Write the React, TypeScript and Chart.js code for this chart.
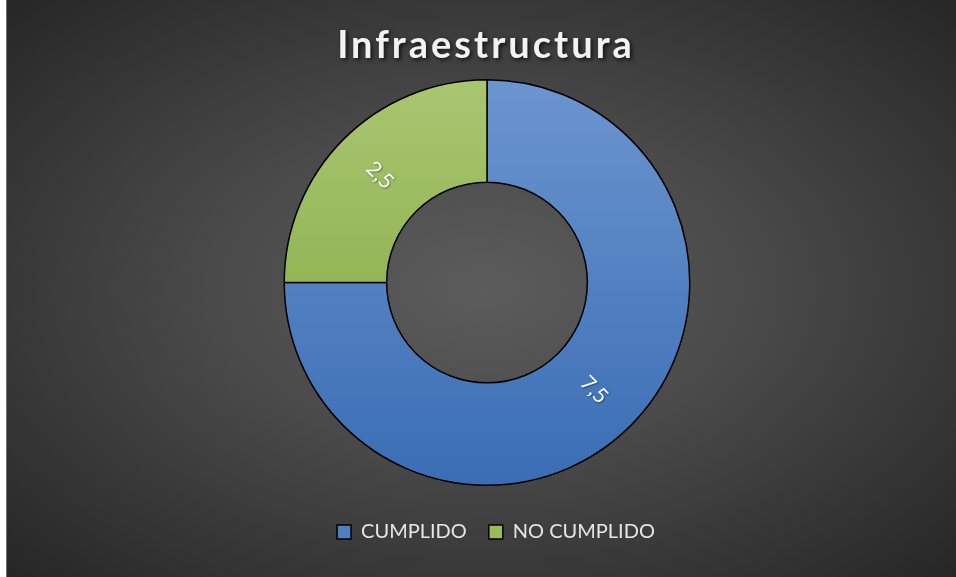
import React, { useEffect, useRef } from 'react';
import { Chart, registerables } from 'chart.js';

Chart.register(...registerables);

const categories = ['CUMPLIDO', 'NO CUMPLIDO'];
const values = [7.5, 2.5];
const titleText = 'Infraestructura';

const FONT = 'Lato, "Open Sans", sans-serif';
const W = 949;
const H = 577;

function sliceFill(chart: any, index: number) {
  const ca = chart.chartArea;
  const blue = index === 0;
  if (!ca) return blue ? '#4f81bd' : '#9bbb59';
  const g = chart.ctx.createLinearGradient(0, ca.top, 0, ca.bottom);
  if (blue) {
    g.addColorStop(0, '#6b95cf');
    g.addColorStop(1, '#3a6db4');
  } else {
    g.addColorStop(0, '#a9c670');
    g.addColorStop(1, '#7ea53c');
  }
  return g;
}

export default function App() {
  const ref = useRef<HTMLCanvasElement>(null);

  useEffect(() => {
    document.body.style.margin = '0';
    const canvas = ref.current!;

    const titlePlugin = {
      id: 'customTitle',
      afterDraw(chart: any) {
        const ctx = chart.ctx;
        ctx.save();
        ctx.font = `bold 38px ${FONT}`;
        (ctx as any).letterSpacing = '3px';
        ctx.fillStyle = '#f2f2f2';
        ctx.textAlign = 'center';
        ctx.textBaseline = 'alphabetic';
        ctx.shadowColor = 'rgba(0,0,0,0.7)';
        ctx.shadowBlur = 4;
        ctx.shadowOffsetX = 2;
        ctx.shadowOffsetY = 2;
        ctx.fillText(titleText, 479, 58);
        ctx.restore();
      },
    };

    const labelPlugin = {
      id: 'sliceLabels',
      afterDatasetsDraw(chart: any) {
        const ctx = chart.ctx;
        const meta = chart.getDatasetMeta(0);
        meta.data.forEach((arc: any, i: number) => {
          const p = arc.tooltipPosition();
          let ang = Math.atan2(p.y - arc.y, p.x - arc.x);
          if (ang > Math.PI / 2) ang -= Math.PI;
          if (ang < -Math.PI / 2) ang += Math.PI;
          ctx.save();
          ctx.translate(p.x, p.y);
          ctx.rotate(ang);
          ctx.font = `21px ${FONT}`;
          ctx.fillStyle = '#ffffff';
          ctx.textAlign = 'center';
          ctx.textBaseline = 'middle';
          ctx.shadowColor = 'rgba(0,0,0,0.4)';
          ctx.shadowBlur = 2;
          ctx.shadowOffsetX = 1;
          ctx.shadowOffsetY = 1;
          ctx.fillText(String(values[i]).replace('.', ','), 0, 0);
          ctx.restore();
        });
      },
    };

    const legendShift = {
      id: 'legendShift',
      afterLayout(chart: any) {
        const lg = chart.legend;
        if (lg) {
          lg.left += 9;
          lg.right += 9;
        }
      },
    };

    const chart = new Chart(canvas, {
      type: 'doughnut',
      data: {
        labels: categories,
        datasets: [
          {
            data: values,
            backgroundColor: (c: any) => sliceFill(c.chart, c.dataIndex),
            borderColor: '#000000',
            borderWidth: 1.5,
            hoverOffset: 0,
          },
        ],
      },
      options: {
        responsive: false,
        animation: false,
        cutout: '49.5%',
        layout: { padding: { top: 79, bottom: 25, left: 11, right: 0 } },
        plugins: {
          title: { display: false },
          tooltip: { enabled: false },
          legend: {
            display: true,
            position: 'bottom',
            title: {
              display: true,
              text: '',
              font: { size: 9, lineHeight: 1 },
              padding: { top: 0, bottom: 5 },
            },
            labels: {
              boxWidth: 14,
              boxHeight: 14,
              padding: 22,
              color: '#e6e6e6',
              font: { family: FONT, size: 20 },
              generateLabels(chart: any) {
                return categories.map((label, i) => ({
                  text: label,
                  fillStyle: i === 0 ? '#4f81bd' : '#9bbb59',
                  strokeStyle: '#000000',
                  lineWidth: 1.5,
                  fontColor: '#e6e6e6',
                  hidden: false,
                  index: i,
                }));
              },
            },
          },
        },
      },
      plugins: [titlePlugin, labelPlugin, legendShift],
    });

    return () => chart.destroy();
  }, []);

  return (
    <div
      style={{
        position: 'absolute',
        left: 6,
        top: 0,
        width: W,
        height: H,
        borderLeft: '1px solid #707070',
        background:
          'radial-gradient(ellipse at 50% 50%, #5c5c5c 0%, #4a4a4a 40%, #262626 100%)',
      }}
    >
      <canvas ref={ref} width={W} height={H} style={{ display: 'block' }} />
    </div>
  );
}
